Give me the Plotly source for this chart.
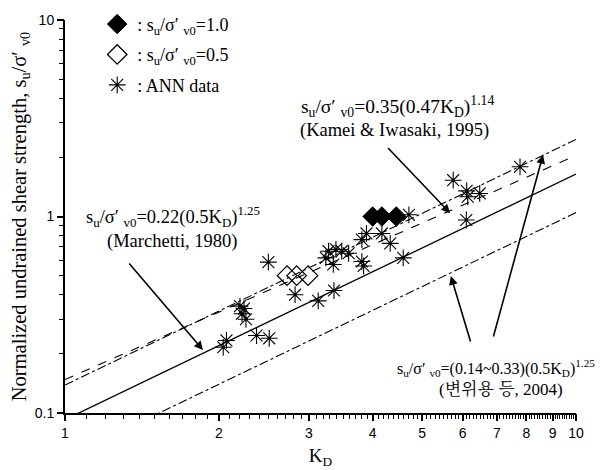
import numpy as np
import plotly.graph_objects as go

# ---- data ----
kd_full = [4.00, 4.17, 4.45]
su_full = [1.0, 1.0, 1.0]

kd_half = [2.72, 2.84, 2.99]
su_half = [0.50, 0.50, 0.50]

kd_ann = [2.04, 2.07, 2.20, 2.22, 2.24, 2.26, 2.37, 2.51, 2.50, 2.82, 3.13, 3.24,
          3.28, 3.35, 3.36, 3.39, 3.48, 3.59, 3.81, 3.81, 3.84, 3.89, 4.17, 4.33,
          4.59, 4.71, 5.75, 6.11, 6.14, 6.48, 6.10, 7.77]
su_ann = [0.216, 0.234, 0.35, 0.32, 0.34, 0.30, 0.248, 0.24, 0.586, 0.40, 0.372, 0.616,
          0.666, 0.570, 0.42, 0.68, 0.666, 0.65, 0.763, 0.59, 0.56, 0.82, 0.82, 0.73,
          0.616, 1.02, 1.53, 1.35, 1.26, 1.31, 0.96, 1.79]

# correlation lines: su = c * (f * KD) ** n
kd_line = [1.0, 10.0]
line_names = ["Marchetti", "Kamei", "Lower", "Upper"]
line_c = [0.22, 0.35, 0.14, 0.33]
line_f = [0.5, 0.47, 0.5, 0.5]
line_n = [1.25, 1.14, 1.25, 1.25]
line_dash = ["solid", "dash", "dashdot", "dashdot"]

x_ticks = [1, 2, 3, 4, 5, 6, 7, 8, 9, 10]
y_ticks = [0.1, 1, 10]
y_tick_text = ["0.1", "1", "10"]

serif = "Liberation Serif, Times New Roman, serif"
sans = "Liberation Sans, Arial, sans-serif"
kor = "Liberation Serif, Noto Serif CJK KR, Noto Sans CJK KR, serif"
SU = "s<sub>u</sub>/σ′ <sub>v0</sub>"

fig = go.Figure()

for name, c, f, n, d in zip(line_names, line_c, line_f, line_n, line_dash):
    kd = np.array(kd_line)
    fig.add_trace(go.Scatter(x=kd, y=c * (f * kd) ** n, mode="lines",
                             line=dict(color="black", width=1.3 if d == "solid" else 1.1, dash=d),
                             showlegend=False, hoverinfo="skip"))

fig.add_trace(go.Scatter(x=kd_full, y=su_full, mode="markers", legendgroup="a",
                         name=": " + SU + "=1.0",
                         marker=dict(symbol="diamond", size=15, color="black",
                                     line=dict(color="black", width=1))))
fig.add_trace(go.Scatter(x=kd_half, y=su_half, mode="markers", legendgroup="b",
                         name=": " + SU + "=0.5",
                         marker=dict(symbol="diamond-open", size=15, color="black",
                                     line=dict(color="black", width=1.3))))
fig.add_trace(go.Scatter(x=kd_ann, y=su_ann, mode="markers", legendgroup="c",
                         name=": ANN data",
                         marker=dict(symbol="asterisk-open", size=14, color="black",
                                     line=dict(color="black", width=1.1))))
# invisible trace to activate the labelled overlay axes
fig.add_trace(go.Scatter(x=[1], y=[1], xaxis="x2", yaxis="y2", mode="markers",
                         marker=dict(opacity=0), showlegend=False, hoverinfo="skip"))

minor_x = [float(round(v, 1)) for v in np.arange(1.1, 10.0, 0.1) if abs(v - round(v)) > 0.05]
minor_y = [0.2, 0.3, 0.4, 0.5, 0.6, 0.7, 0.8, 0.9, 2, 3, 4, 5, 6, 7, 8, 9]

common = dict(showgrid=False, zeroline=False, tickcolor="black")
fig.update_layout(
    xaxis=dict(type="log", range=[0, 1], tickmode="array", tickvals=minor_x,
               ticks="outside", ticklen=4, tickwidth=1.2, showticklabels=False,
               showline=True, linewidth=2, linecolor="black", **common),
    yaxis=dict(type="log", range=[-1, 1], tickmode="array", tickvals=minor_y,
               ticks="outside", ticklen=4, tickwidth=1.2, showticklabels=False,
               showline=True, linewidth=2, linecolor="black", **common),
    xaxis2=dict(type="log", range=[0, 1], overlaying="x", anchor="y2", side="bottom",
                tickmode="array", tickvals=x_ticks, ticktext=[str(v) for v in x_ticks],
                ticks="outside", ticklen=7, tickwidth=1.6, showline=False,
                tickfont=dict(family=sans, size=14, color="black"),
                title=dict(text="K<sub>D</sub>", font=dict(family=serif, size=19, color="black"),
                           standoff=8), **common),
    yaxis2=dict(type="log", range=[-1, 1], overlaying="y", anchor="x2", side="left",
                tickmode="array", tickvals=y_ticks, ticktext=y_tick_text,
                ticks="outside", ticklen=7, tickwidth=1.6, showline=False,
                tickfont=dict(family=sans, size=14, color="black"),
                title=dict(text="Normalized undrained shear strength, " + SU,
                           font=dict(family=serif, size=20.5, color="black"), standoff=3),
                **common),
)

ann = []
def txt(x, y, t, size=18.5, fam=serif, xa="center"):
    ann.append(dict(xref="paper", yref="paper", x=x, y=y, text=t, showarrow=False,
                    font=dict(family=fam, size=size, color="black"),
                    xanchor=xa, yanchor="middle"))

txt(0.650, 0.781, SU + "=0.35(0.47K<sub>D</sub>)<sup>1.14</sup>", size=19.5)
txt(0.645, 0.718, "(Kamei &amp; Iwasaki, 1995)")
txt(0.212, 0.500, SU + "=0.22(0.5K<sub>D</sub>)<sup>1.25</sup>")
txt(0.210, 0.437, "(Marchetti, 1980)")
txt(0.843, 0.115, SU + "=(0.14~0.33)(0.5K<sub>D</sub>)<sup>1.25</sup>", size=16)
txt(0.853, 0.059, "(변위용 등, 2004)", size=17, fam=kor)

def arrow(tail, tip):
    ann.append(dict(xref="x", yref="y", axref="x", ayref="y",
                    x=np.log10(tip[0]), y=np.log10(tip[1]),
                    ax=np.log10(tail[0]), ay=np.log10(tail[1]),
                    text="", showarrow=True, arrowhead=2, arrowsize=1.1,
                    arrowwidth=1.6, arrowcolor="black"))

arrow((4.26, 2.27), (5.67, 1.04))
arrow((1.328, 0.587), (1.862, 0.209))
arrow((6.23, 0.227), (5.69, 0.498))
arrow((6.88, 0.241), (8.62, 2.06))

# page body adds an 8 px offset; compensate in size and margins
fig.update_layout(
    width=595, height=462,
    margin=dict(l=57, r=27, t=12, b=57, autoexpand=False),
    plot_bgcolor="white", paper_bgcolor="white",
    annotations=ann,
    legend=dict(x=0.063, y=1.036, xanchor="left", yanchor="top",
                font=dict(family=serif, size=18, color="black"),
                traceorder="grouped", tracegroupgap=4,
                bgcolor="rgba(0,0,0,0)", borderwidth=0, itemwidth=30),
)

fig.write_html("out.html")
